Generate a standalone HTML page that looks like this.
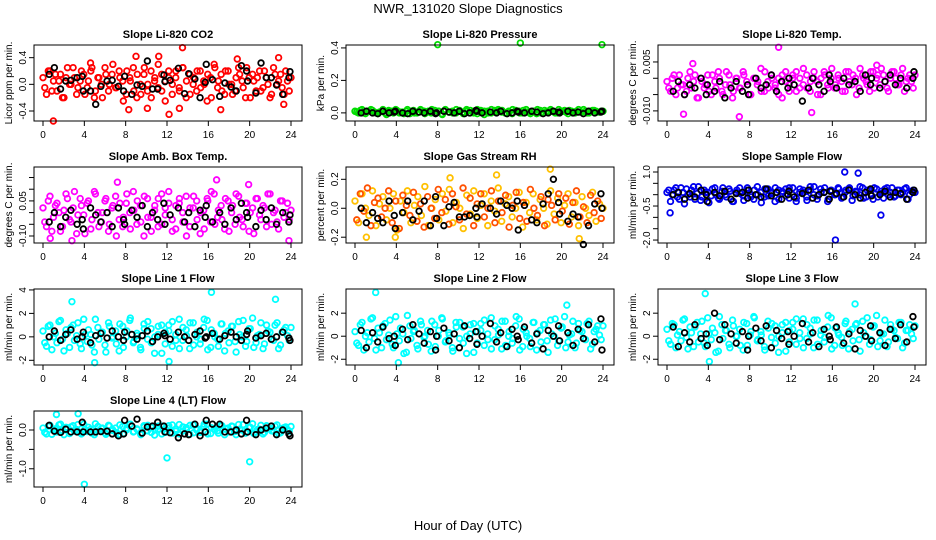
<!DOCTYPE html>
<html><head><meta charset="utf-8"><style>
body{margin:0;background:#fff}
svg{display:block;font-family:"Liberation Sans",sans-serif}
</style></head><body>
<svg id="chart" width="936" height="540" viewBox="0 0 936 540">
<rect width="936" height="540" fill="#fff"/>
<text x="468" y="13" text-anchor="middle" font-size="13">NWR_131020  Slope Diagnostics</text>
<text x="468" y="530" text-anchor="middle" font-size="13">Hour of Day (UTC)</text>
</svg>
<script>
const xTicks = [0,4,8,12,16,20,24];
const blackHours = [0.6,1.1,1.7,2.2,2.7,3.3,3.8,3.9,4.6,5.1,5.6,6.2,6.7,7.3,7.8,7.9,8.6,9.1,9.6,10.1,10.6,11.1,11.7,11.8,12.3,13.1,13.7,14.1,14.7,15.2,15.7,15.8,16.4,17.1,17.6,18.2,18.7,19.2,19.7,19.8,20.6,21.1,21.6,22.1,22.6,23.2,23.8,23.9];

const titles = ["Slope Li-820 CO2","Slope Li-820 Pressure","Slope Li-820 Temp.","Slope Amb. Box Temp.","Slope Gas Stream RH","Slope Sample Flow","Slope Line 1 Flow","Slope Line 2 Flow","Slope Line 3 Flow","Slope Line 4 (LT) Flow"];
const yTitles = ["Licor ppm per min.","kPa per min.","degrees C per min.","degrees C per min.","percent per min.","ml/min per min.","ml/min per min.","ml/min per min.","ml/min per min.","ml/min per min."];
const yLims = [[-0.55,0.59],[-0.05,0.418],[-0.0131,0.0102],[-0.13,0.195],[-0.24,0.285],[-2.13,1.22],[-2.4,4.08],[-2.5,4.1],[-2.5,4.1],[-1.47,0.49]];
const yTickVals = [[-0.4,0,0.4],[0,0.2,0.4],[-0.01,-0.005,0,0.005],[-0.1,-0.05,0,0.05,0.1,0.15],[-0.2,0,0.2],[-2,-1.5,-1,-0.5,0,0.5,1],[-2,0,2,4],[-2,0,2],[-2,0,2],[-1,-0.5,0]];
const yTickLabels = [["-0.4","0.0","0.4"],["0.0","0.2","0.4"],["-0.010","","","0.005"],["-0.10","","","0.05","",""],["-0.2","0.0","0.2"],["-2.0","","","-0.5","","","1.0"],["-2","0","2","4"],["-2","0","2"],["-2","0","2"],["-1.0","","0.0"]];
const colors = ["#ff0000","#00dd00","#ff00ff","#ff00ff","#ffc000","#0000ee","#00ffff","#00ffff","#00ffff","#00ffff"];
const colors2 = ["#ff0000","#00dd00","#ff00ff","#ff00ff","#ff5000","#0000ee","#00ffff","#00ffff","#00ffff","#00ffff"];

const colorVals = [
[0.1,-0.15,0.2,0.05,-0.1,0.15,-0.2,0.25,0.0,0.1,-0.05,0.2,-0.15,0.05,0.25,-0.1,0.1,-0.2,0.15,0.0,0.3,-0.05,0.1,-0.25,0.2,0.05,-0.1,0.15,-0.15,0.25,0.0,-0.2,0.1,0.3,-0.1,0.05,0.2,-0.15,0.1,-0.05,0.25,-0.2,0.15,0.0,-0.1,0.2,0.05,-0.25,0.1,0.3,-0.05,0.15,-0.15,0.2,0.0,-0.1,0.25,0.05,-0.2,0.1,0.15,-0.1,0.2,-0.05,0.1,-0.2,0.25,0.0,0.15,-0.15,0.05,0.1],
[0.01,0.0,0.02,-0.005,0.01,0.015,0.0,0.005,0.02,-0.01,0.01,0.0,0.015,0.005,-0.005,0.02,0.01,0.0,0.005,0.015,-0.005,0.01,0.02,0.0,0.01,-0.01,0.015,0.005,0.0,0.02,0.01,-0.005,0.01,0.015,0.0,0.02,0.005,-0.01,0.01,0.0,0.015,0.02,0.005,0.0,0.01,-0.005,0.015,0.01,0.0,0.02,0.005,0.01,-0.005,0.015,0.0,0.01,0.02,0.005,0.0,0.01,0.015,-0.005,0.01,0.0,0.02,0.005,0.01,0.0,0.015,0.01,0.005,0.01],
[-0.001,-0.004,0.001,-0.003,-0.002,-0.005,0.0,-0.003,0.001,-0.006,-0.001,-0.002,-0.004,0.001,-0.003,0.0,-0.005,0.002,-0.002,-0.004,0.0,-0.003,0.001,-0.002,-0.005,0.0,-0.001,-0.004,0.002,-0.003,0.0,-0.002,-0.005,0.001,-0.001,-0.004,0.0,0.002,-0.003,-0.002,0.001,-0.004,0.0,-0.001,-0.005,0.002,-0.002,0.0,-0.003,0.001,-0.001,-0.004,0.002,-0.002,0.0,-0.003,0.001,-0.001,-0.004,0.002,0.0,-0.002,0.001,-0.003,0.0,0.002,-0.002,0.001,-0.004,0.0,-0.001,0.001],
[0.02,-0.06,0.07,-0.02,0.04,-0.08,0.01,0.06,-0.04,0.09,-0.01,0.03,-0.09,0.05,-0.03,0.08,-0.06,0.0,0.06,-0.05,0.03,-0.1,0.04,-0.02,0.08,-0.07,0.01,0.05,-0.04,0.07,-0.02,-0.08,0.03,0.06,-0.05,0.02,0.09,-0.03,-0.07,0.04,0.0,0.07,-0.06,0.02,0.05,-0.09,0.01,0.06,-0.04,0.08,-0.02,0.03,-0.07,0.05,0.0,-0.05,0.07,-0.03,0.04,-0.08,0.02,0.06,-0.01,0.03,-0.06,0.08,0.0,-0.04,0.05,-0.02,0.04,0.01],
[0.05,-0.1,0.1,0.0,-0.05,0.12,-0.12,0.03,0.08,-0.08,0.0,0.1,-0.15,0.05,-0.03,0.12,-0.1,0.02,0.08,-0.05,0.15,-0.12,0.0,0.06,-0.08,0.1,-0.02,0.13,-0.1,0.04,0.0,-0.14,0.09,-0.04,0.12,-0.07,0.02,0.1,-0.12,0.05,-0.02,0.14,-0.09,0.03,0.08,-0.06,0.0,0.11,-0.13,0.04,-0.03,0.1,-0.08,0.06,0.0,-0.11,0.12,-0.04,0.07,-0.1,0.02,0.1,-0.06,0.04,-0.12,0.08,0.0,-0.05,0.11,-0.09,0.03,0.0],
[0.1,-0.3,0.2,-0.1,0.3,-0.4,0.0,0.2,-0.2,0.35,-0.1,0.1,-0.35,0.25,0.0,-0.2,0.3,-0.1,0.15,-0.3,0.2,0.05,-0.25,0.3,-0.1,0.2,0.0,-0.35,0.25,-0.05,0.1,0.3,-0.2,0.05,0.25,-0.15,0.3,-0.3,0.1,0.2,-0.1,0.35,0.0,-0.2,0.25,0.1,-0.3,0.2,0.0,0.3,-0.15,0.1,0.25,-0.25,0.15,0.0,0.3,-0.1,0.2,-0.2,0.25,0.05,-0.15,0.3,0.1,-0.1,0.2,0.0,0.25,-0.2,0.15,0.1],
[0.5,-0.8,1.0,0.0,-0.5,1.4,-1.2,0.3,0.8,-0.3,1.2,-1.0,0.2,0.6,-0.7,1.5,-0.2,0.4,-1.3,0.9,0.0,-0.6,1.1,-0.9,0.5,1.6,-0.4,0.1,-1.1,0.7,1.3,-0.5,0.0,0.9,-1.4,0.4,1.0,-0.8,0.2,1.5,-0.3,0.6,-1.0,1.2,0.0,-0.6,0.8,1.4,-0.9,0.3,-0.2,1.1,-1.2,0.5,0.9,-0.4,1.3,0.0,-0.8,0.7,1.6,-0.5,0.2,-1.0,1.0,0.4,-0.3,1.2,-0.7,0.6,0.1,0.8],
[0.4,-0.8,1.2,0.0,-0.5,1.6,-1.2,0.3,0.9,-0.3,1.4,-1.0,0.2,0.7,-1.5,1.8,-0.2,0.5,-1.1,1.0,0.0,-0.7,1.3,-0.9,0.5,1.5,-0.4,0.1,-1.3,0.8,1.2,-0.6,0.0,1.0,-1.4,0.4,1.1,-0.8,0.2,1.6,-0.3,0.6,-1.1,1.3,0.0,-0.6,0.9,1.5,-0.9,0.3,-0.2,1.2,-1.2,0.5,1.0,-0.4,1.4,0.0,-0.8,0.7,1.7,-0.5,0.2,-1.0,1.1,0.4,-0.3,1.3,-0.7,0.6,0.1,0.9],
[0.6,-0.7,1.0,0.1,-0.4,1.5,-1.1,0.3,0.8,-0.5,1.3,-0.9,0.2,0.7,-1.4,1.7,-0.2,0.5,-1.0,0.9,0.0,-0.8,1.2,-0.8,0.4,1.6,-0.3,0.1,-1.2,0.7,1.1,-0.6,0.0,1.0,-1.3,0.5,1.2,-0.7,0.3,1.5,-0.2,0.7,-1.0,1.4,0.1,-0.5,0.8,1.6,-0.8,0.3,-0.1,1.1,-1.1,0.6,1.0,-0.3,1.3,0.0,-0.7,0.8,1.8,-0.4,0.2,-0.9,1.0,0.5,-0.2,1.2,-0.6,0.5,0.2,0.9],
[0.05,-0.1,0.12,0.0,-0.05,0.15,-0.12,0.03,0.08,-0.03,0.14,-0.1,0.02,0.07,-0.08,0.16,-0.02,0.05,-0.11,0.1,0.0,-0.07,0.13,-0.09,0.05,0.15,-0.04,0.01,-0.12,0.08,0.12,-0.06,0.0,0.1,-0.1,0.04,0.11,-0.08,0.02,0.14,-0.03,0.06,-0.11,0.13,0.0,-0.06,0.09,0.15,-0.09,0.03,-0.02,0.12,-0.12,0.05,0.1,-0.04,0.14,0.0,-0.08,0.07,0.16,-0.05,0.02,-0.1,0.11,0.04,-0.03,0.13,-0.07,0.06,0.01,0.09]
];

const colorVals2 = [
[-0.05,0.2,-0.1,0.15,0.05,-0.2,0.1,0.0,0.25,-0.15,0.05,0.15,-0.05,0.2,-0.2,0.1,0.0,0.25,-0.1,0.15,-0.05,0.2,0.05,-0.15,0.1,0.25,-0.2,0.0,0.15,-0.1,0.2,0.05,-0.05,0.15,-0.25,0.1,0.0,0.2,-0.1,0.25,0.05,-0.15,0.1,0.2,-0.05,0.0,0.15,-0.2,0.25,0.05,-0.1,0.2,0.0,-0.15,0.1,0.15,-0.05,0.25,-0.2,0.05,0.1,-0.1,0.2,0.0,-0.15,0.15,0.05,-0.05,0.2,-0.1],
[0.005,0.015,0.0,0.01,0.02,0.005,-0.005,0.01,0.0,0.015,0.01,0.02,0.0,0.005,0.01,-0.005,0.015,0.0,0.02,0.01,0.005,0.0,0.015,0.01,-0.005,0.02,0.005,0.01,0.0,0.015,0.005,0.02,0.0,0.01,-0.005,0.015,0.01,0.0,0.02,0.005,0.01,0.015,0.0,0.005,0.02,0.01,0.0,0.015,0.005,-0.005,0.01,0.02,0.0,0.015,0.005,0.01,0.0,0.02,0.01,0.005,0.015,0.0,0.01,0.005,0.02,0.0,0.01,0.015,0.005,0.01],
[-0.003,0.0,-0.005,0.001,-0.002,-0.004,0.002,-0.001,-0.006,0.0,-0.003,0.001,-0.005,-0.001,0.002,-0.004,-0.002,0.001,-0.006,0.0,-0.003,0.002,-0.001,-0.005,0.0,-0.002,0.003,-0.004,-0.001,0.001,-0.003,0.0,-0.006,0.002,-0.002,0.001,-0.004,0.0,0.003,-0.003,-0.001,0.002,-0.005,0.0,0.001,-0.003,0.003,-0.002,0.0,-0.004,0.002,-0.001,0.001,-0.005,0.003,0.0,-0.002,0.002,-0.003,0.001,0.003,-0.001,-0.004,0.002,0.0,-0.002,0.003,-0.001,0.001,-0.003],
[-0.04,0.05,-0.08,0.03,0.0,-0.06,0.08,-0.03,0.02,-0.09,0.06,-0.01,0.04,-0.07,0.09,0.0,-0.04,0.05,-0.08,0.02,0.07,-0.03,-0.06,0.04,0.0,0.09,-0.05,0.03,-0.1,0.06,-0.02,0.01,-0.06,0.08,-0.01,0.04,-0.08,0.03,0.06,-0.04,-0.1,0.02,0.07,-0.03,0.0,-0.07,0.05,0.09,-0.05,0.01,-0.03,0.06,-0.08,0.03,0.08,-0.02,-0.06,0.04,0.0,-0.09,0.06,-0.03,0.02,0.08,-0.05,0.01,-0.07,0.05,0.0,-0.03],
[-0.08,0.1,-0.02,0.14,-0.12,0.04,0.07,-0.06,0.0,0.12,-0.1,0.05,-0.14,0.09,0.02,-0.05,0.11,-0.09,0.03,-0.13,0.08,0.0,-0.07,0.13,-0.03,0.06,-0.11,0.1,0.01,-0.08,0.14,-0.04,0.07,-0.12,0.03,0.1,-0.06,0.0,0.12,-0.1,0.05,-0.03,0.09,-0.13,0.02,0.11,-0.07,0.04,-0.09,0.13,0.0,-0.05,0.08,-0.12,0.06,0.02,-0.08,0.1,-0.02,0.07,-0.11,0.04,0.12,-0.06,0.01,-0.1,0.09,-0.03,0.05,-0.07],
[0.2,0.0,0.3,-0.2,0.1,0.25,-0.1,0.35,0.05,-0.25,0.2,0.1,-0.05,0.3,-0.15,0.15,0.0,0.25,-0.3,0.1,0.3,-0.05,0.2,0.0,-0.2,0.35,0.1,-0.1,0.25,0.05,-0.3,0.2,0.15,-0.05,0.3,0.0,-0.15,0.25,0.1,-0.25,0.2,0.35,-0.05,0.1,0.3,-0.2,0.15,0.0,0.25,-0.1,0.2,0.3,-0.05,0.1,0.35,-0.15,0.2,0.05,0.3,-0.1,0.15,0.25,0.0,0.3,-0.05,0.2,0.1,0.3,0.0,0.2],
[-0.5,0.9,-1.1,0.3,1.3,-0.2,0.6,-0.9,1.0,0.1,-0.6,1.5,-0.4,0.2,-1.3,0.8,0.4,-0.7,1.2,-0.1,0.5,-1.2,0.9,0.0,1.4,-0.5,0.3,-0.9,1.1,-0.2,0.7,-1.4,0.2,1.0,-0.6,0.5,1.3,-0.3,-1.0,0.8,0.1,1.2,-0.7,0.4,-0.2,1.5,-1.1,0.6,0.0,-0.8,1.1,0.3,-0.5,0.9,-1.3,0.2,1.4,-0.4,0.7,-0.9,0.1,1.2,-0.6,0.5,-0.2,1.0,-1.0,0.4,0.8,-0.3],
[-0.6,1.0,-1.2,0.3,1.5,-0.2,0.7,-1.0,1.1,0.1,-0.7,1.7,-0.4,0.2,-1.4,0.9,0.4,-0.8,1.3,-0.1,0.5,-1.3,1.0,0.0,1.6,-0.5,0.3,-1.0,1.2,-0.2,0.8,-1.5,0.2,1.1,-0.6,0.5,1.4,-0.3,-1.1,0.9,0.1,1.3,-0.8,0.4,-0.2,1.7,-1.2,0.6,0.0,-0.9,1.2,0.3,-0.5,1.0,-1.4,0.2,1.5,-0.4,0.8,-1.0,0.1,1.3,-0.6,0.5,-0.2,1.1,-1.1,0.4,0.9,-0.3],
[-0.4,1.1,-1.0,0.4,1.4,-0.1,0.8,-0.9,1.2,0.2,-0.6,1.6,-0.3,0.3,-1.3,1.0,0.5,-0.7,1.4,0.0,0.6,-1.2,1.1,0.1,1.7,-0.4,0.4,-0.9,1.3,-0.1,0.9,-1.4,0.3,1.2,-0.5,0.6,1.5,-0.2,-1.0,1.0,0.2,1.4,-0.7,0.5,-0.1,1.8,-1.1,0.7,0.1,-0.8,1.3,0.4,-0.4,1.1,-1.3,0.3,1.6,-0.3,0.9,-0.9,0.2,1.4,-0.5,0.6,-0.1,1.2,-1.0,0.5,1.0,-0.2],
[-0.06,0.1,-0.11,0.03,0.13,-0.02,0.07,-0.09,0.11,0.01,-0.06,0.15,-0.04,0.02,-0.12,0.09,0.04,-0.07,0.12,-0.01,0.05,-0.11,0.09,0.0,0.14,-0.05,0.03,-0.09,0.11,-0.02,0.07,-0.13,0.02,0.1,-0.06,0.05,0.13,-0.03,-0.1,0.08,0.01,0.12,-0.07,0.04,-0.02,0.15,-0.1,0.06,0.0,-0.08,0.11,0.03,-0.05,0.09,-0.12,0.02,0.14,-0.04,0.07,-0.09,0.01,0.12,-0.06,0.05,-0.02,0.1,-0.09,0.04,0.08,-0.03]
];

const outlierHours = [
[1,13.5,12.2,9,11.2,18.8,22.8,10.1,13.2,17.2,23.3,4.6,8.3],
[8,16,23.9],
[10.8,1.6,7,14,2.5,20.3],
[2.8,7.2,16.8,23.8,19.9,0.7],
[1.1,3.9,9.2,13.7,18.9,21.7],
[16.3,0.3,18.5,17.2,20.7],
[16.3,22.5,5,2.8,12.2],
[2,4.2,20.5],
[3.7,4.1,18.2],
[4,12,20,1.3,3.4]
];
const outlierVals = [
[-0.55,0.55,-0.45,0.42,0.42,0.38,0.4,-0.36,-0.36,-0.38,-0.3,0.32,-0.38],
[0.42,0.43,0.42],
[0.0095,-0.011,-0.0118,-0.0105,0.0045,0.004],
[-0.12,0.13,0.14,-0.12,0.12,-0.11],
[-0.2,-0.2,0.21,0.23,0.27,-0.21],
[-2.0,-0.8,0.95,1.0,-0.9],
[3.8,3.2,-2.2,3.0,-2.1],
[3.8,-2.3,2.7],
[3.7,-2.2,2.8],
[-1.4,-0.72,-0.82,0.4,0.42]
];

const blackVals = [
[0.15,0.25,-0.07,0.05,0.06,0.1,0.12,-0.1,-0.1,-0.3,-0.03,0.05,0.06,-0.03,-0.1,0.12,-0.15,-0.01,-0.03,0.35,-0.07,-0.07,0.14,0.04,0.06,0.24,-0.14,0.16,0.08,-0.2,0.03,0.3,0.07,-0.18,0.02,-0.04,-0.1,0.28,0.2,0.05,-0.13,0.32,0.1,0.1,-0.01,-0.15,0.1,0.19],
[0.0,0.01,0.0,-0.005,0.01,0.0,0.005,0.01,0.0,-0.005,0.01,0.005,0.0,0.01,-0.005,0.0,0.01,0.005,0.0,0.01,-0.005,0.0,0.015,0.01,0.0,0.005,0.0,0.01,-0.005,0.0,0.01,0.005,0.0,0.01,0.005,-0.005,0.0,0.01,0.005,0.0,0.01,0.0,0.005,-0.005,0.01,0.0,0.005,0.01],
[-0.004,-0.001,-0.005,-0.002,-0.003,0.0,-0.005,-0.002,-0.004,-0.001,-0.006,-0.003,-0.001,-0.004,-0.002,-0.005,0.0,-0.003,-0.002,0.001,-0.004,-0.001,-0.003,0.0,-0.002,-0.007,-0.003,0.0,-0.002,-0.004,0.001,-0.001,-0.003,0.0,-0.002,-0.001,-0.004,0.001,-0.002,0.0,-0.003,-0.001,0.001,-0.002,0.0,-0.003,0.0,0.002],
[-0.04,0.0,-0.06,-0.02,0.01,-0.05,-0.03,-0.07,0.02,-0.01,-0.04,0.0,-0.06,0.02,-0.03,-0.05,0.01,-0.02,0.03,-0.06,0.0,-0.03,0.04,-0.05,-0.01,0.02,-0.04,0.0,-0.06,0.01,-0.02,0.03,-0.04,0.0,-0.05,0.02,-0.03,0.04,0.0,-0.02,-0.06,0.01,-0.03,0.02,-0.05,0.0,-0.04,-0.01],
[0.0,-0.1,-0.03,-0.07,-0.1,0.05,-0.05,-0.14,-0.03,0.05,-0.08,-0.02,0.05,-0.12,0.08,-0.07,-0.12,0.01,0.04,-0.06,-0.06,-0.05,0.0,-0.06,0.03,0.0,-0.04,0.05,0.02,0.0,0.05,-0.15,0.02,-0.08,-0.1,0.03,0.1,0.2,0.04,-0.04,-0.09,-0.04,-0.06,-0.25,-0.12,0.03,0.1,0.0],
[0.0,0.1,-0.2,0.05,-0.1,0.2,0.0,-0.3,0.1,-0.05,0.15,-0.2,0.05,0.1,-0.15,0.2,0.0,-0.1,0.25,-0.05,0.1,-0.2,0.0,0.15,-0.1,0.05,0.2,-0.15,0.0,0.1,-0.2,0.15,0.05,-0.1,0.2,0.0,-0.15,0.1,0.25,-0.05,0.0,0.15,-0.1,0.1,0.05,-0.2,0.1,0.2],
[0.0,0.5,-0.3,0.2,0.6,-0.2,0.0,0.4,-0.5,0.1,0.3,-0.1,0.5,0.0,-0.3,0.4,0.2,-0.2,0.1,0.5,-0.4,0.0,0.3,0.1,-0.2,0.4,0.0,-0.3,0.2,0.5,-0.1,0.0,0.3,-0.2,0.1,0.4,0.0,-0.3,0.2,0.5,-0.1,0.1,0.3,-0.2,0.0,0.4,-0.1,-0.3],
[0.5,-1.0,0.3,-0.5,0.8,-0.2,0.0,-0.8,0.6,-0.3,1.0,0.2,-0.6,0.4,-1.2,0.0,0.7,-0.4,0.2,-1.0,0.9,-0.2,0.4,-0.7,0.0,1.1,-0.5,0.3,-0.9,0.6,0.0,-0.3,0.8,-0.6,0.2,-1.1,0.5,0.0,0.9,-0.4,0.3,-0.8,0.6,-0.2,1.0,-0.5,1.5,-1.2],
[0.8,-0.9,0.3,-0.5,1.0,-0.2,0.2,-0.8,2.0,-0.3,1.0,0.2,-0.6,0.4,-1.2,0.0,0.7,-0.4,0.9,-1.0,0.5,-0.2,0.4,-0.7,0.0,1.1,-0.5,0.3,-0.9,0.6,0.0,-0.3,0.8,-0.6,0.2,-1.1,0.5,0.0,0.9,-0.4,0.3,-0.8,0.6,-0.2,1.0,-0.5,1.7,0.8],
[0.12,-0.03,-0.06,0.02,-0.05,-0.05,0.2,-0.05,-0.05,-0.05,-0.04,-0.03,-0.1,-0.15,-0.1,0.25,0.1,0.28,-0.08,0.08,0.1,0.2,0.1,-0.05,-0.07,-0.2,-0.1,-0.12,0.15,-0.15,-0.05,0.25,0.15,0.15,-0.05,-0.05,0.0,-0.1,0.25,-0.05,-0.12,0.0,0.05,0.1,-0.12,0.0,-0.1,-0.15]
];

const NS = "http://www.w3.org/2000/svg";
const svg = document.getElementById("chart");
function mk(tag, attrs, parent){
  const e = document.createElementNS(NS, tag);
  for (const k in attrs) e.setAttribute(k, attrs[k]);
  parent.appendChild(e);
  return e;
}
function dot(g, x, y, col, name){
  const c = mk("circle", {cx: x, cy: y, r: 2.8, fill: "none", stroke: col, "stroke-width": 1.8}, g);
  
  
}
titles.forEach((title, p) => {
  const cx = (p % 3) * 312, ry = Math.floor(p / 3) * 122;
  const left = 34 + cx, top = 45 + ry, w = 268, h = 76;
  const xS = v => 43 + cx + v * 248 / 24;
  const [lo, hi] = yLims[p];
  const yS = v => top + (hi - v) / (hi - lo) * h;
  const g = mk("g", {}, svg);
  
  
  const t = mk("text", {x: left + w / 2, y: 38 + ry, "text-anchor": "middle", "font-size": 11, "font-weight": "bold"}, g);
  t.textContent = title;
  
  
  const yt = mk("text", {transform: `translate(${12 + cx},${top + h / 2}) rotate(-90)`, "text-anchor": "middle", "font-size": 10}, g);
  yt.textContent = yTitles[p];
  
  
  const cv = colorVals[p];
  cv.forEach((v, i) => dot(g, xS(i * 24 / (cv.length - 1)), yS(v), colors[p], 'series-point'));
  const cv2 = colorVals2[p];
  cv2.forEach((v, i) => dot(g, xS((i + 0.5) * 24 / cv2.length), yS(v), colors2[p], 'series-point'));
  outlierHours[p].forEach((hr, i) => dot(g, xS(hr), yS(outlierVals[p][i]), colors[p], 'outlier-point'));
  blackHours.forEach((hr, i) => dot(g, xS(hr), yS(blackVals[p][i]), "#000", 'reference-point'));
  const box = mk("rect", {x: left, y: top, width: w, height: h, fill: "none", stroke: "#000", "stroke-width": 1}, g);
  
  
  xTicks.forEach(v => {
    mk("line", {x1: xS(v), x2: xS(v), y1: top + h, y2: top + h + 5, stroke: "#000"}, g);
    const tl = mk("text", {x: xS(v), y: top + h + 17, "text-anchor": "middle", "font-size": 10}, g);
    tl.textContent = v;
    
    
  });
  yTickVals[p].forEach((v, i) => {
    mk("line", {x1: left - 5, x2: left, y1: yS(v), y2: yS(v), stroke: "#000"}, g);
    const tl = mk("text", {transform: `translate(${left - 8},${yS(v)}) rotate(-90)`, "text-anchor": "middle", "font-size": 10}, g);
    tl.textContent = yTickLabels[p][i];
    
    
  });
});
</script>
</body></html>
